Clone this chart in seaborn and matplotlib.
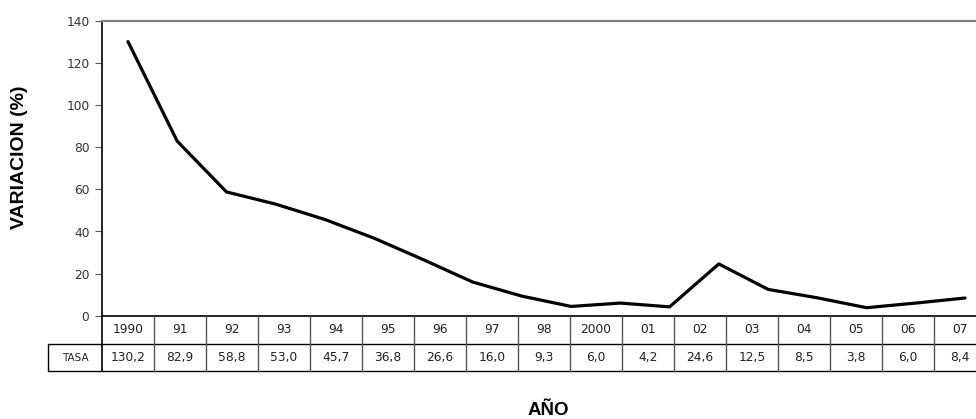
import matplotlib
matplotlib.use("Agg")
import matplotlib.pyplot as plt
import seaborn as sns
import pandas as pd
from matplotlib.lines import Line2D

# ---- data ----
line_years = list(range(1990, 2008))
line_values = [130.2, 82.9, 58.8, 53.0, 45.7, 36.8, 26.6, 16.0, 9.3, 4.4,
               6.0, 4.2, 24.6, 12.5, 8.5, 3.8, 6.0, 8.4]
table_labels = ["1990", "91", "92", "93", "94", "95", "96", "97", "98",
                "2000", "01", "02", "03", "04", "05", "06", "07"]
table_values = ["130,2", "82,9", "58,8", "53,0", "45,7", "36,8", "26,6", "16,0",
                "9,3", "6,0", "4,2", "24,6", "12,5", "8,5", "3,8", "6,0", "8,4"]
row_header = "TASA"
y_ticks = [0, 20, 40, 60, 80, 100, 120, 140]

sns.set_style("white")
plt.rcParams["font.family"] = ["DejaVu Sans"]

W, H = 976, 419
fig = plt.figure(figsize=(W / 100, H / 100), dpi=100)
ax_left, ax_right, ax_top, ax_bot = 102, 986, 21, 315.7
ax = fig.add_axes([ax_left / W, 1 - ax_bot / H, (ax_right - ax_left) / W, (ax_bot - ax_top) / H])

df = pd.DataFrame({"year": line_years, "value": line_values})
sns.lineplot(data=df, x="year", y="value", ax=ax, color="black", linewidth=2.3)

# x scale: first point centred on first table column, last point at px 965
px_step = (965 - 128) / (len(line_years) - 1)
xmin = line_years[0] - (128 - ax_left) / px_step
xmax = xmin + (ax_right - ax_left) / px_step
ax.set_xlim(xmin, xmax)
ax.set_ylim(0, 140)
ax.set_yticks(y_ticks)
ax.set_yticklabels([str(v) for v in y_ticks], fontsize=8.8, color="#333333")
ax.set_xticks([])
ax.tick_params(axis="y", left=True, length=5, width=0.8, color="#555555", pad=4)
ax.set_xlabel("")
ax.set_ylabel("")

for s in ["right", "bottom"]:
    ax.spines[s].set_visible(False)
ax.spines["left"].set_color("black")
ax.spines["left"].set_linewidth(1.2)
ax.spines["top"].set_color("#808080")
ax.spines["top"].set_linewidth(1.6)

# ---- data table below the axes ----
axh = ax_bot - ax_top
axw = ax_right - ax_left
r1 = -(344 - ax_bot) / axh
r2 = -(371 - ax_bot) / axh
ncol = len(table_labels)
cw = 1.0 / ncol
hdr = -(ax_left - 48) / axw
tr = ax.transAxes

def hline(x0, x1, y, color="black", lw=1.0):
    ax.add_line(Line2D([x0, x1], [y, y], transform=tr, color=color, lw=lw, clip_on=False))

def vline(x, y0, y1, color="black", lw=1.0):
    ax.add_line(Line2D([x, x], [y0, y1], transform=tr, color=color, lw=lw, clip_on=False))

hline(0, 1.02, 0, lw=1.2)
hline(hdr, 1.02, r1)
hline(hdr, 1.02, r2)
vline(0, r2, 0, lw=1.2)
vline(hdr, r2, r1)
for i in range(1, ncol + 1):
    vline(i * cw, r2, 0, color="#555555")

for i, (lab, val) in enumerate(zip(table_labels, table_values)):
    xc = (i + 0.5) * cw
    ax.text(xc, r1 / 2, lab, transform=tr, ha="center", va="center",
            fontsize=8.8, color="#222222", clip_on=False)
    ax.text(xc, (r1 + r2) / 2, val, transform=tr, ha="center", va="center",
            fontsize=8.8, color="#222222", clip_on=False)
ax.text(hdr / 2, (r1 + r2) / 2, row_header, transform=tr, ha="center", va="center",
        fontsize=7.5, color="#222222", clip_on=False)

# ---- axis titles ----
fig.text(20 / W, 1 - 157 / H, "VARIACION (%)", rotation=90, ha="center", va="center",
         fontsize=14, fontweight="bold", color="black",
         family=["Liberation Sans", "DejaVu Sans"])
fig.text(548 / W, 1 - 410 / H, "AÑO", ha="center", va="center",
         fontsize=13.5, fontweight="bold", color="black",
         family=["Liberation Sans", "DejaVu Sans"])

fig.savefig("out.png", dpi=100)
